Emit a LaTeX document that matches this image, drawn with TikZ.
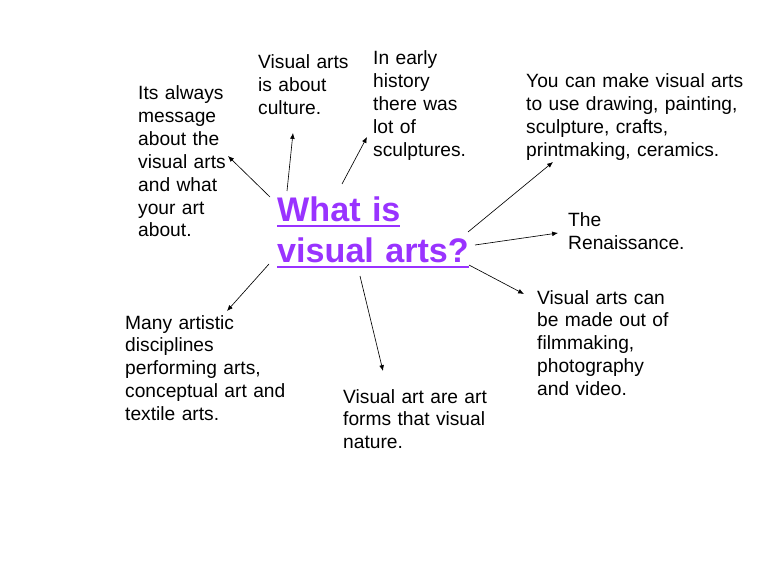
\documentclass[tikz,border=0pt]{standalone}
\usepackage{fontspec}
\setmainfont{Liberation Sans}
\usepackage{xcolor}
\usetikzlibrary{arrows.meta, calc, positioning}
\definecolor{titlepurple}{rgb}{0.6, 0.2, 1}
\newcommand{\ttlul}[1]{\leavevmode{\setbox0\hbox{#1}\rlap{\raisebox{-5pt}{\rule{\wd0}{2.6pt}}}\box0}}

\begin{document}
\begin{tikzpicture}[x=0.9375pt, y=-0.9375pt]
        \useasboundingbox [fill=white] (0, 0) rectangle (768, 576);

        \tikzstyle{txt} = [anchor=base west, inner sep=0pt, text width=8cm, align=left,
            font=\fontsize{18pt}{21.4pt}\selectfont];
        \tikzstyle{ttl} = [anchor=base west, inner sep=0pt, text width=8cm, align=left,
            text=titlepurple, font=\fontsize{32pt}{38.4pt}\selectfont\bfseries];
        \tikzstyle{a} = [draw, line width=0.6pt, -{Latex[length=5.5pt, width=4.5pt]}];

        % centre
        \node [ttl] (T) at (277, 222) {\ttlul{What is}\\\ttlul{visual arts?}};

        % leaves
        \node [txt] (L1) at (138, 100) {Its always\\message\\about the\\visual arts\\and what\\your art\\about.};
        \node [txt] (L2) at (258,  69) {Visual arts\\is about\\culture.};
        \node [txt] (L3) at (373,  65) {In early\\history\\there was\\lot of\\sculptures.};
        \node [txt] (L4) at (526,  88) {You can make visual arts\\to use drawing, painting,\\sculpture, crafts,\\printmaking, ceramics.};
        \node [txt] (L5) at (568, 227) {The\\Renaissance.};
        \node [txt] (L6) at (537, 304) {Visual arts can\\be made out of\\filmmaking,\\photography\\and video.};
        \node [txt] (L7) at (343, 403) {Visual art are art\\forms that visual\\nature.};
        \node [txt] (L8) at (125, 329) {Many artistic\\disciplines\\performing arts,\\conceptual art and\\textile arts.};

        % arrow ends
        \coordinate (S1) at (270, 197);  \coordinate (E1) at (228, 156);
        \coordinate (S2) at (287, 191);  \coordinate (E2) at (293, 133);
        \coordinate (S3) at (342, 184);  \coordinate (E3) at (367, 137);
        \coordinate (S4) at (468, 232);  \coordinate (E4) at (553, 162);
        \coordinate (S5) at (475, 245);  \coordinate (E5) at (558, 233);
        \coordinate (S6) at (469, 265);  \coordinate (E6) at (524, 294);
        \coordinate (S7) at (360, 276);  \coordinate (E7) at (383, 371);
        \coordinate (S8) at (269, 264);  \coordinate (E8) at (227, 311);

        \foreach \na in {1, ..., 8}{
            \draw [a] (S\na) -- (E\na);
        }
    \end{tikzpicture}
\end{document}
